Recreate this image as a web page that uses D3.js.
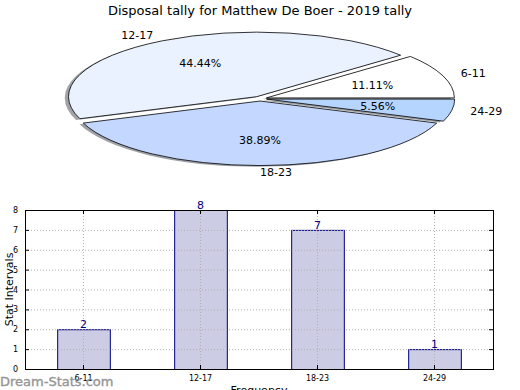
<!DOCTYPE html>
<html>
<head>
<meta charset="utf-8">
<script src="https://cdn.jsdelivr.net/npm/d3@7"></script>
<style>
  body { margin: 0; background: #fff; }
  svg { display: block; font-family: "DejaVu Sans", sans-serif; }
</style>
</head>
<body>
<div id="wrapper"></div>
<script>

// data
var categories = ["6-11", "12-17", "18-23", "24-29"];
var counts = [2, 8, 7, 1];
var sliceColors = ["#ffffff", "#eaf1ff", "#c4d8ff", "#b5d5ff"];
var yTicks = [0, 1, 2, 3, 4, 5, 6, 7, 8];

var width = 520, height = 390;

var svg = d3.select("#wrapper").append("svg")
	.attr("width", width)
	.attr("height", height);

svg.append("text")
	.attr("x", 260)
	.attr("y", 15)
	.attr("text-anchor", "middle")
	.style("font-size", "13px")
	.text("Disposal tally for Matthew De Boer - 2019 tally");

// ---- pie (squashed, like an unequal-aspect matplotlib pie) ----
var cx = 260, cy = 98.7, rx = 188, ry = 64.5;
var explode = 0.036;

// counter-clockwise from 3 o'clock
var pie = d3.pie()
	.sort(null)
	.startAngle(Math.PI / 2)
	.endAngle(Math.PI / 2 - 2 * Math.PI);

var arc = d3.arc()
	.innerRadius(0)
	.outerRadius(1);

var totals = d3.sum(counts);
var slices = pie(counts).map(function(d, i) {
	var mid = (d.startAngle + d.endAngle) / 2;
	// d3 angle -> screen direction
	var ux = Math.sin(mid), uy = -Math.cos(mid);
	return {
		arc: d,
		i: i,
		ux: ux,
		uy: uy,
		ox: cx + explode * rx * ux,
		oy: cy + explode * ry * uy
	};
});

var pieG = svg.append("g");

// shadows first, under every wedge
pieG.selectAll(".shadow")
	.data(slices)
	.enter()
	.append("path")
	.attr("class", "shadow")
	.attr("transform", function(s) {
		return "translate(" + (s.ox - 0.02 * rx) + "," + (s.oy + 0.02 * ry) + ") scale(" + rx + "," + ry + ")";
	})
	.attr("d", function(s) { return arc(s.arc); })
	.style("fill", function(s) {
		var c = d3.rgb(sliceColors[s.i]);
		return d3.rgb(c.r * 0.3, c.g * 0.3, c.b * 0.3);
	})
	.style("fill-opacity", 0.5);

pieG.selectAll(".wedge")
	.data(slices)
	.enter()
	.append("path")
	.attr("class", "wedge")
	.attr("transform", function(s) {
		return "translate(" + s.ox + "," + s.oy + ") scale(" + rx + "," + ry + ")";
	})
	.attr("d", function(s) { return arc(s.arc); })
	.style("fill", function(s) { return sliceColors[s.i]; })
	.style("stroke", "#000")
	.style("stroke-width", 0.8)
	.attr("vector-effect", "non-scaling-stroke");

pieG.selectAll(".pct")
	.data(slices)
	.enter()
	.append("text")
	.attr("class", "pct")
	.attr("x", function(s) { return s.ox + 0.6 * rx * s.ux; })
	.attr("y", function(s) { return s.oy + 0.6 * ry * s.uy; })
	.attr("dy", "0.35em")
	.attr("text-anchor", "middle")
	.style("font-size", "11px")
	.text(function(s) { return (counts[s.i] / totals * 100).toFixed(2) + "%"; });

pieG.selectAll(".lbl")
	.data(slices)
	.enter()
	.append("text")
	.attr("class", "lbl")
	.attr("x", function(s) { return s.ox + 1.1 * rx * s.ux; })
	.attr("y", function(s) { return s.oy + 1.1 * ry * s.uy; })
	.attr("dy", "0.35em")
	.attr("text-anchor", function(s) { return s.ux < -1e-6 ? "end" : "start"; })
	.style("font-size", "11px")
	.text(function(s) { return categories[s.i]; });

// ---- bar chart ----
var axLeft = 25, axRight = 493, axTop = 210, axBottom = 369;

var x = d3.scaleBand()
	.domain(categories)
	.range([axLeft, axRight])
	.paddingInner(0.55)
	.paddingOuter(0.275);

var y = d3.scaleLinear()
	.domain([0, 8])
	.range([axBottom, axTop]);

var barG = svg.append("g");

barG.selectAll(".bar")
	.data(counts)
	.enter()
	.append("rect")
	.attr("class", "bar")
	.attr("x", function(d, i) { return x(categories[i]) + 0.5; })
	.attr("y", function(d) { return y(d) + 0.5; })
	.attr("width", x.bandwidth())
	.attr("height", function(d) { return y(0) - y(d); })
	.style("fill", "#ccccE4")
	.style("stroke", "#000080")
	.style("stroke-width", 1);

// dotted grid over the bars
barG.selectAll(".hgrid")
	.data(yTicks)
	.enter()
	.append("line")
	.attr("x1", axLeft).attr("x2", axRight)
	.attr("y1", function(d) { return y(d) + 0.5; })
	.attr("y2", function(d) { return y(d) + 0.5; })
	.style("stroke", "#b0b0b0")
	.style("stroke-width", 1)
	.style("stroke-dasharray", "1,2");

var xCenter = function(d) { return Math.round(x(d) + x.bandwidth() / 2) + 0.5; };

barG.selectAll(".vgrid")
	.data(categories)
	.enter()
	.append("line")
	.attr("x1", xCenter)
	.attr("x2", xCenter)
	.attr("y1", axTop).attr("y2", axBottom)
	.style("stroke", "#b0b0b0")
	.style("stroke-width", 1)
	.style("stroke-dasharray", "1,2");

barG.selectAll(".val")
	.data(counts)
	.enter()
	.append("text")
	.attr("x", function(d, i) { return xCenter(categories[i]); })
	.attr("y", function(d) { return y(d) - 1; })
	.attr("text-anchor", "middle")
	.style("font-size", "11px")
	.style("fill", "#000080")
	.text(function(d) { return d; });

// axes, ticks inward on all sides
var tickFont = function(g) {
	g.select(".domain").remove();
	g.selectAll("text").style("font-size", "8px").style("font-family", "DejaVu Sans, sans-serif");
	g.selectAll("line").style("stroke", "#000");
};

var xTickScale = d3.scalePoint()
	.domain(categories)
	.range([xCenter(categories[0]) - 0.5, xCenter(categories[3]) - 0.5]);

svg.append("g")
	.attr("transform", "translate(0," + axBottom + ")")
	.call(d3.axisBottom(xTickScale).tickSizeInner(-4).tickPadding(6))
	.call(tickFont);

svg.append("g")
	.attr("transform", "translate(0," + axTop + ")")
	.call(d3.axisTop(xTickScale).tickSizeInner(-4).tickFormat(""))
	.call(tickFont);

svg.append("g")
	.attr("transform", "translate(" + axLeft + ",0)")
	.call(d3.axisLeft(y).tickValues(yTicks).tickSizeInner(-4).tickPadding(7).tickFormat(d3.format("d")))
	.call(tickFont);

svg.append("g")
	.attr("transform", "translate(" + axRight + ",0)")
	.call(d3.axisRight(y).tickValues(yTicks).tickSizeInner(-4).tickFormat(""))
	.call(tickFont);

svg.append("rect")
	.attr("x", axLeft + 0.5).attr("y", axTop + 0.5)
	.attr("width", axRight - axLeft).attr("height", axBottom - axTop)
	.style("fill", "none")
	.style("stroke", "#000")
	.style("stroke-width", 1);

svg.append("text")
	.attr("transform", "translate(13," + ((axTop + axBottom) / 2) + ") rotate(-90)")
	.attr("text-anchor", "middle")
	.style("font-size", "11px")
	.text("Stat Intervals");

svg.append("text")
	.attr("x", (axLeft + axRight) / 2)
	.attr("y", 394)
	.attr("text-anchor", "middle")
	.style("font-size", "11px")
	.text("Frequency");

svg.append("text")
	.attr("x", 0)
	.attr("y", 386)
	.style("font-size", "13px")
	.style("fill", "#8a8a8a")
	.style("stroke", "#8a8a8a")
	.style("stroke-width", 0.35)
	.style("opacity", 0.9)
	.text("Dream-Stats.com");

</script>
</body>
</html>
